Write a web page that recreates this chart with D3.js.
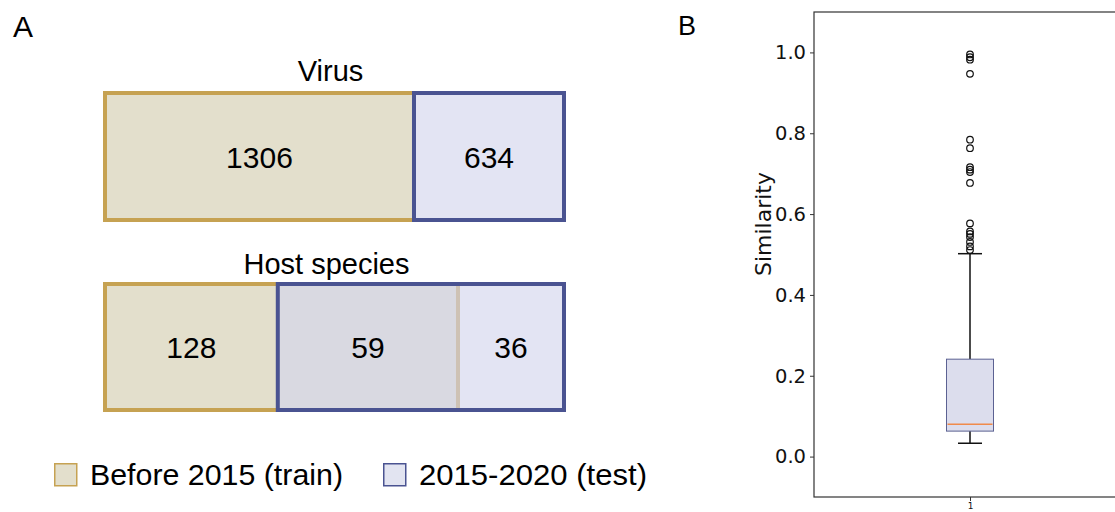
<!DOCTYPE html>
<html>
<head>
<meta charset="utf-8">
<script src="https://cdn.jsdelivr.net/npm/d3@7"></script>
<style>
  body { margin: 0; background: #fff; }
  svg { display: block; }
</style>
</head>
<body>
<svg id="fig" width="1115" height="512"></svg>
<script>
// panel A : counts
let virusSets = ["Before 2015 (train)", "2015-2020 (test)"];
let virusCounts = [1306, 634];

// host species: train only / shared / test only
let hostRegions = ["train only", "shared", "test only"];
let hostCounts = [128, 59, 36];

let legendLabels = ["Before 2015 (train)", "2015-2020 (test)"];

// panel B : similarity box plot
let boxCategory = ["1"];
let boxStats = { whiskerLow: 0.033, q1: 0.063, median: 0.080, q3: 0.241, whiskerHigh: 0.502 };
let outliers = [0.995, 0.988, 0.982, 0.947, 0.784, 0.763, 0.716, 0.710, 0.704, 0.677,
                0.577, 0.557, 0.551, 0.543, 0.531, 0.520, 0.511];
let yTicks = [0.0, 0.2, 0.4, 0.6, 0.8, 1.0];

const trainStroke = "#c6a252", trainFill = "#e3dfcc";
const testStroke = "#4a5391", testFill = "rgb(211,213,236)";
const fontA = "'Liberation Sans', Arial, sans-serif";

var svg = d3.select("#fig");

//---------- panel A
svg.append("text").attr("x", 13).attr("y", 37)
  .style("font-family", fontA).style("font-size", "30px").text("A");

var xv = d3.scaleLinear()
  .domain([0, d3.sum(virusCounts)])
  .range([105, 564]);

var virusTop = 93, virusH = 127;
let cum = 0;
virusCounts.forEach(function(v, i) {
  let x0 = xv(cum), x1 = xv(cum + v);
  cum += v;
  svg.append("rect")
    .attr("x", x0).attr("y", virusTop)
    .attr("width", x1 - x0).attr("height", virusH)
    .attr("fill", i == 0 ? trainFill : testFill)
    .attr("fill-opacity", i == 0 ? 1 : 0.64)
    .attr("stroke", i == 0 ? trainStroke : testStroke)
    .attr("stroke-width", 4);
  svg.append("text")
    .attr("x", (x0 + x1) / 2).attr("y", virusTop + virusH / 2 + 11)
    .attr("text-anchor", "middle")
    .style("font-family", fontA).style("font-size", "30px")
    .text(v);
});

svg.append("text").attr("x", (xv.range()[0] + xv.range()[1]) / 2 - 4).attr("y", 81)
  .attr("text-anchor", "middle")
  .style("font-family", fontA).style("font-size", "29px").text("Virus");

// host bar is schematic, regions not to scale -> display weights
var hostWeights = [1.63, 1.70, 1.0];
var hostEdges = [0];
hostWeights.forEach(function(w, i) { hostEdges.push(hostEdges[i] + w); });
var xh = d3.scaleLinear()
  .domain([0, hostEdges[3]])
  .range([105, 564]);

var hostTop = 284, hostH = 126;

// train set = regions 0..1, test set = regions 1..2
svg.append("rect")
  .attr("x", xh(hostEdges[0])).attr("y", hostTop)
  .attr("width", xh(hostEdges[2]) - xh(hostEdges[0])).attr("height", hostH)
  .attr("fill", trainFill).attr("stroke", trainStroke).attr("stroke-width", 4);

svg.append("rect")
  .attr("x", xh(hostEdges[1])).attr("y", hostTop)
  .attr("width", xh(hostEdges[3]) - xh(hostEdges[1])).attr("height", hostH)
  .attr("fill", testFill).attr("fill-opacity", 0.64)
  .attr("stroke", testStroke).attr("stroke-width", 4);

hostCounts.forEach(function(v, i) {
  svg.append("text")
    .attr("x", (xh(hostEdges[i]) + xh(hostEdges[i + 1])) / 2)
    .attr("y", hostTop + hostH / 2 + 11)
    .attr("text-anchor", "middle")
    .style("font-family", fontA).style("font-size", "30px")
    .text(v);
});

svg.append("text").attr("x", (xh.range()[0] + xh.range()[1]) / 2 - 8).attr("y", 274)
  .attr("text-anchor", "middle")
  .style("font-family", fontA).style("font-size", "29px").text("Host species");

// legend
var legPos = [{x: 54, w: 253}, {x: 383, w: 228}];
legendLabels.forEach(function(lab, i) {
  let g = svg.append("g").attr("transform", "translate(" + legPos[i].x + ",463)");
  g.append("rect").attr("x", 0.75).attr("y", 0.75).attr("width", 22).attr("height", 22)
    .attr("fill", i == 0 ? trainFill : "#e2e4f1")
    .attr("stroke", i == 0 ? trainStroke : testStroke).attr("stroke-width", 1.5);
  g.append("text").attr("x", 36).attr("y", 22)
    .attr("textLength", legPos[i].w).attr("lengthAdjust", "spacingAndGlyphs")
    .style("font-family", fontA).style("font-size", "29px").text(lab);
});

//---------- panel B
svg.append("text").attr("x", 678).attr("y", 35)
  .style("font-family", fontA).style("font-size", "27px").text("B");

var y = d3.scaleLinear().domain([-0.1, 1.1]).range([497, 12]);
var x = d3.scalePoint().domain(boxCategory).range([814, 1126]).padding(0.5);

var frameL = 814, frameR = 1126;

svg.append("rect")
  .attr("x", frameL).attr("y", y(1.1))
  .attr("width", frameR - frameL).attr("height", y(-0.1) - y(1.1))
  .attr("fill", "none").attr("stroke", "#333").attr("stroke-width", 1.2);

var yAxis = d3.axisLeft(y).tickValues(yTicks).tickFormat(d3.format(".1f"))
  .tickSize(4).tickPadding(4);
var gy = svg.append("g").attr("transform", "translate(" + frameL + ",0)").call(yAxis);
gy.select(".domain").remove();
gy.selectAll("text").style("font-family", "'DejaVu Sans', sans-serif")
  .style("font-size", "19.5px").attr("fill", "#111");
gy.selectAll("line").attr("stroke", "#333");

var gx = svg.append("g").attr("transform", "translate(0," + y(-0.1) + ")")
  .call(d3.axisBottom(x).tickSize(4).tickPadding(2));
gx.select(".domain").remove();
gx.selectAll("text").style("font-family", "'DejaVu Sans', sans-serif").style("font-size", "9px").attr("fill", "#111");
gx.selectAll("line").attr("stroke", "#333");

svg.append("text")
  .attr("transform", "translate(771,224) rotate(-90)")
  .attr("text-anchor", "middle")
  .style("font-family", "'DejaVu Sans', sans-serif").style("font-size", "22px")
  .attr("fill", "#111")
  .text("Similarity");

var cx = x("1");
var boxW = 47, capW = 24;

// whiskers
svg.append("line").attr("x1", cx).attr("x2", cx)
  .attr("y1", y(boxStats.q3)).attr("y2", y(boxStats.whiskerHigh))
  .attr("stroke", "#111").attr("stroke-width", 1.5);
svg.append("line").attr("x1", cx).attr("x2", cx)
  .attr("y1", y(boxStats.q1)).attr("y2", y(boxStats.whiskerLow))
  .attr("stroke", "#111").attr("stroke-width", 1.5);
[boxStats.whiskerLow, boxStats.whiskerHigh].forEach(function(v) {
  svg.append("line").attr("x1", cx - capW / 2).attr("x2", cx + capW / 2)
    .attr("y1", y(v)).attr("y2", y(v))
    .attr("stroke", "#111").attr("stroke-width", 1.5);
});

svg.append("rect")
  .attr("x", cx - boxW / 2).attr("y", y(boxStats.q3))
  .attr("width", boxW).attr("height", y(boxStats.q1) - y(boxStats.q3))
  .attr("fill", "#dcdded").attr("stroke", "#5b6192").attr("stroke-width", 1);

svg.append("line").attr("x1", cx - boxW / 2 + 1).attr("x2", cx + boxW / 2 - 1)
  .attr("y1", y(boxStats.median)).attr("y2", y(boxStats.median))
  .attr("stroke", "#f08a4b").attr("stroke-width", 1.6);

svg.selectAll(".flier")
  .data(outliers)
  .enter().append("circle")
  .attr("class", "flier")
  .attr("cx", cx).attr("cy", function(d) { return y(d); })
  .attr("r", 3.3)
  .attr("fill", "none").attr("stroke", "#111").attr("stroke-width", 1.2);
</script>
</body>
</html>
